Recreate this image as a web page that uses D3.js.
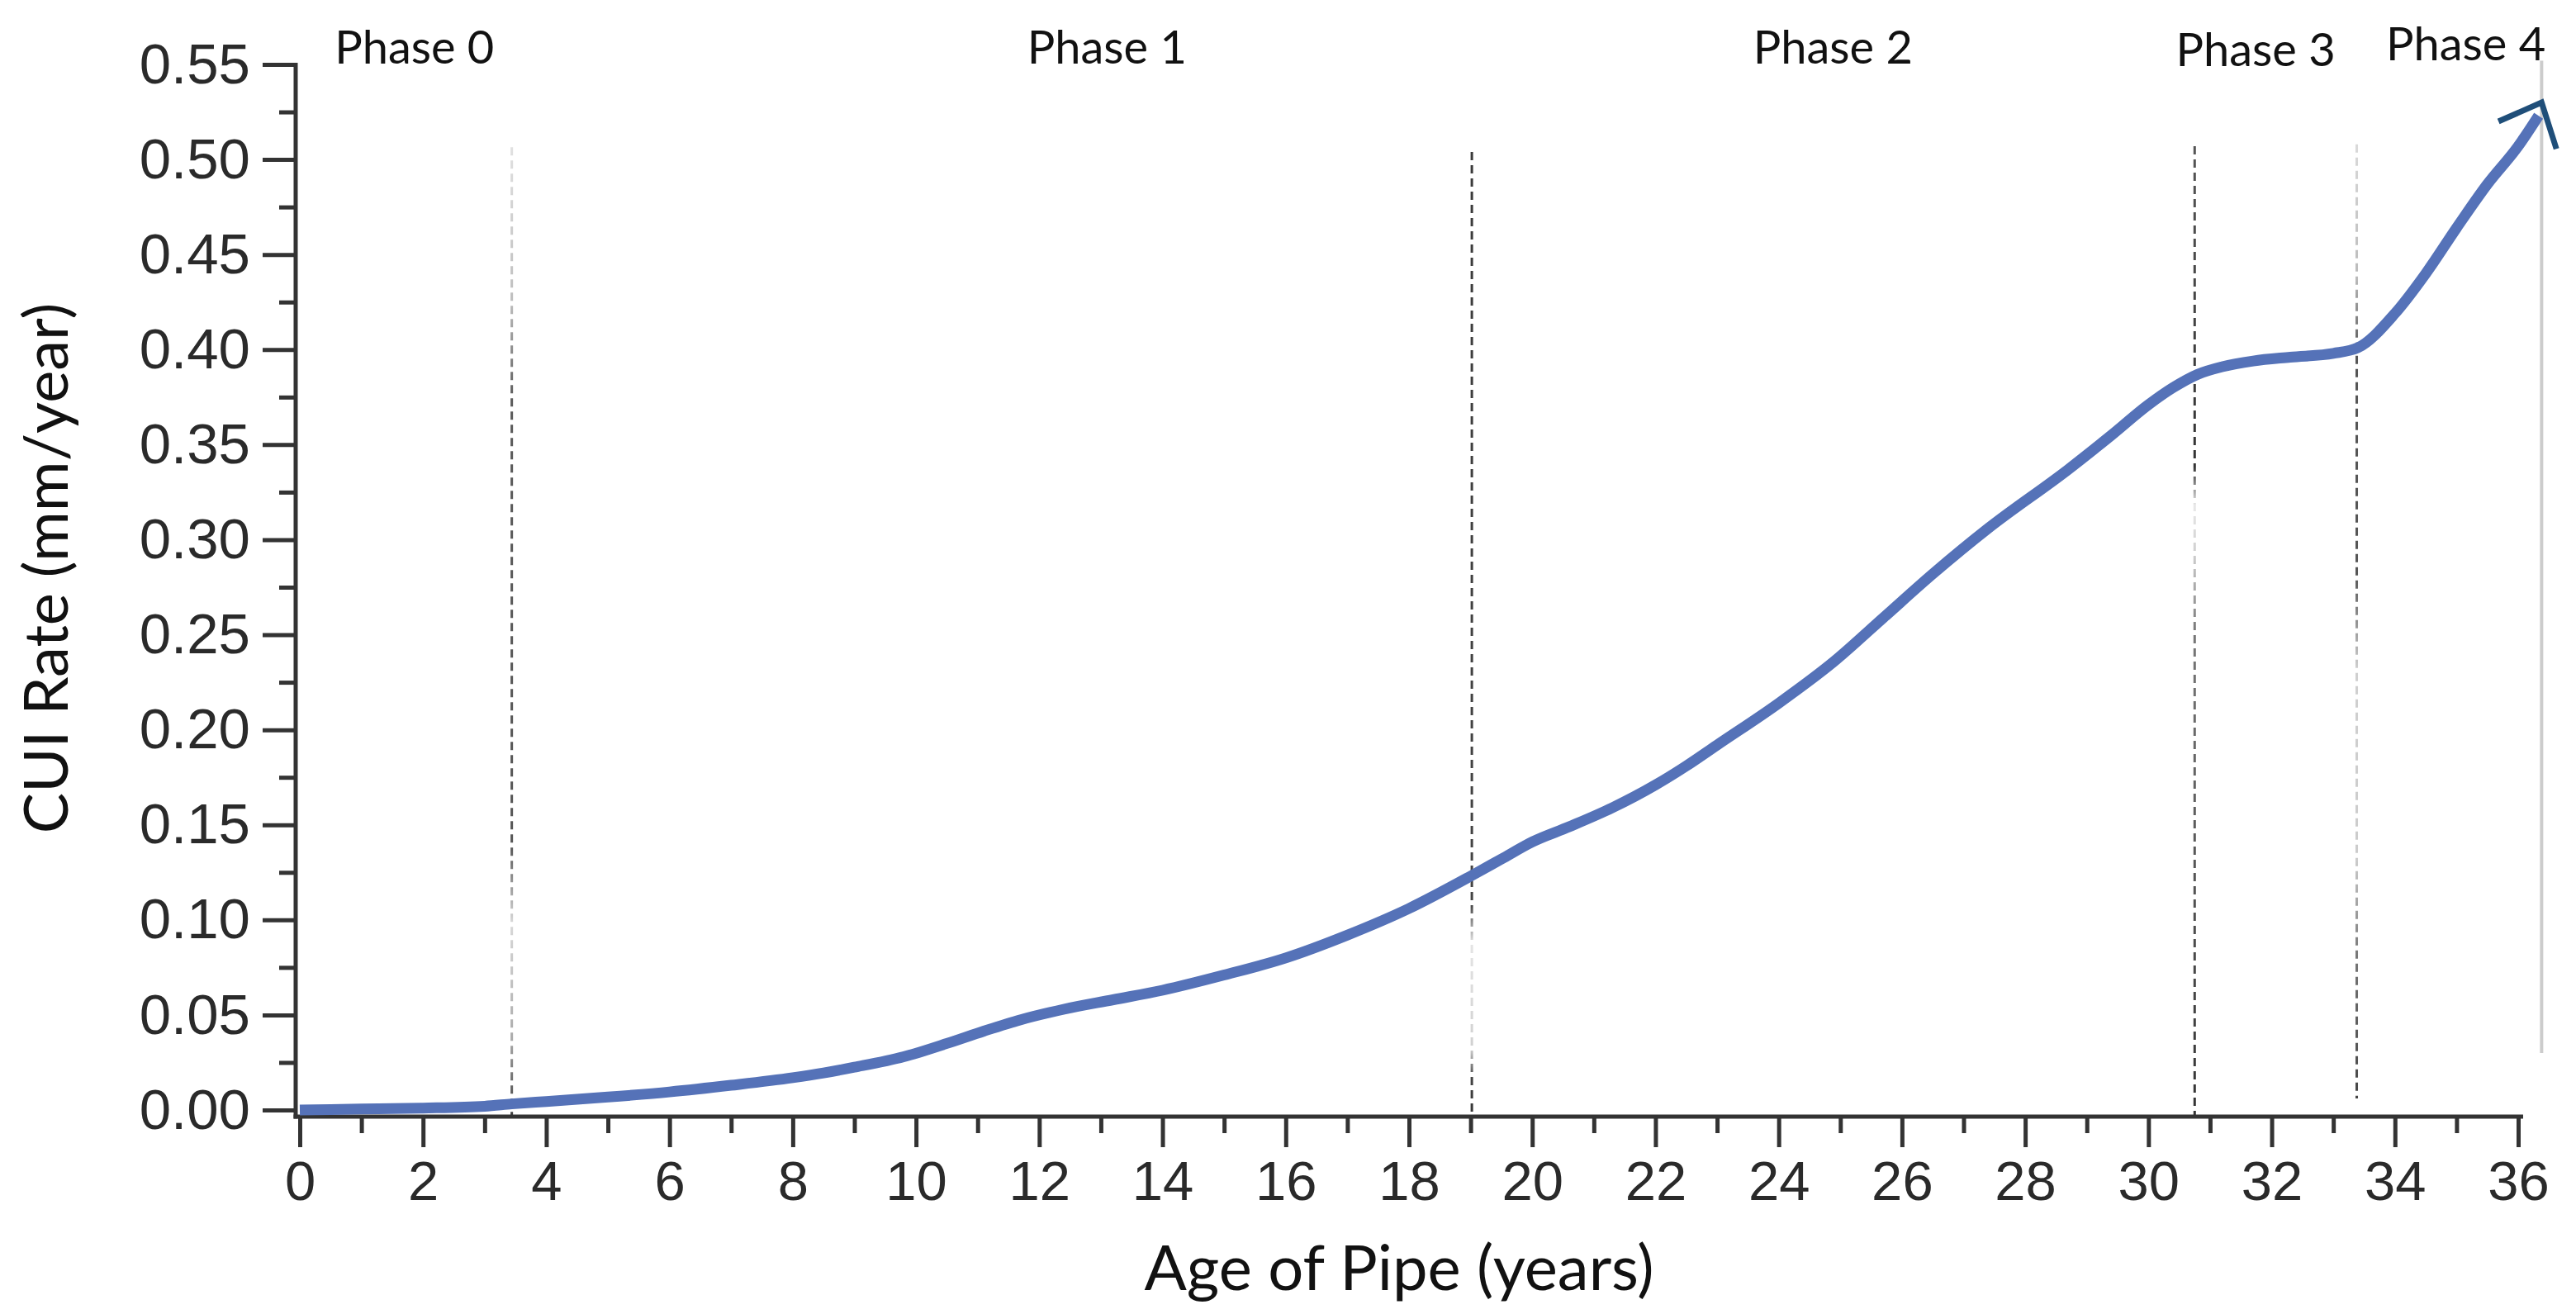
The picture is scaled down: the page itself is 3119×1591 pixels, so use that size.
<!DOCTYPE html>
<html>
<head>
<meta charset="utf-8">
<script src="https://cdn.jsdelivr.net/npm/d3@7"></script>
<style>
  html, body { margin: 0; padding: 0; background: #ffffff; }
  svg { display: block; }
</style>
</head>
<body>
<svg id="chart" width="3119" height="1591"></svg>
<script>
// ---------------- data ----------------
const ages = [0, 1, 2, 3, 3.44, 4, 5, 6, 7, 8, 8.5, 9, 9.8, 10.5, 11.1, 11.7, 12.4, 13.2, 14, 15, 16, 17, 18, 19, 19.5, 20, 20.6, 21.3, 22, 22.5, 23, 24, 24.9, 25.7, 26.5, 27.4, 28.7, 29.4, 30, 30.4, 30.8, 31.2, 31.7, 32.3, 33, 33.4, 34, 34.5, 35.0, 35.5, 36.0, 36.33];
const cuiRates = [0.000, 0.0005, 0.001, 0.002, 0.0032, 0.0045, 0.0068, 0.0095, 0.013, 0.017, 0.0195, 0.0225, 0.028, 0.035, 0.0415, 0.0475, 0.053, 0.058, 0.063, 0.071, 0.080, 0.092, 0.106, 0.123, 0.132, 0.141, 0.149, 0.159, 0.171, 0.181, 0.192, 0.214, 0.236, 0.259, 0.282, 0.306, 0.337, 0.355, 0.371, 0.380, 0.387, 0.391, 0.394, 0.396, 0.398, 0.401, 0.419, 0.440, 0.464, 0.487, 0.507, 0.523];

const xTickValues = [0, 2, 4, 6, 8, 10, 12, 14, 16, 18, 20, 22, 24, 26, 28, 30, 32, 34, 36];
const xMinorTicks = [1, 3, 5, 7, 9, 11, 13, 15, 17, 19, 21, 23, 25, 27, 29, 31, 33, 35];
const yTickValues = [0, 0.05, 0.10, 0.15, 0.20, 0.25, 0.30, 0.35, 0.40, 0.45, 0.50, 0.55];
const yMinorTicks = [0.025, 0.075, 0.125, 0.175, 0.225, 0.275, 0.325, 0.375, 0.425, 0.475, 0.525];

const phaseNames = ["Phase 0", "Phase 1", "Phase 2", "Phase 3", "Phase 4"];
const phaseLabelAges = [1.86, 13.1, 24.88, 31.74, 35.15];
const phaseBoundaryAges = [3.44, 19.02, 30.75, 33.38];
const endMarkerAge = 36.38;
// arrow head at the end of the curve: [age, rate]
const arrowPoints = [[35.68, 0.520], [36.38, 0.530], [36.62, 0.5056]];

const xTitle = "Age of Pipe (years)";
const yTitle = "CUI Rate (mm/year)";

// ---------------- layout ----------------
const svg = d3.select("#chart");
const x = d3.scaleLinear().domain([0, 36]).range([363, 3049]);
const y = d3.scaleLinear().domain([0, 0.55]).range([1344, 78]);
const xAxisY = 1352;
const yAxisX = 358;
const xAxisEnd = x(36.08);
const axisColor = "#333333";
const labelColor = "#2a2a2a";

// dashed boundary line style (fading pattern) per boundary
const fadeStops = [
  [[0, "#e0e0e0"], [0.16, "#bdbdbd"], [0.26, "#5a5a5a"], [0.72, "#555"], [0.8, "#d8d8d8"], [0.92, "#aaaaaa"], [1, "#3a3a3a"]],
  [[0, "#3a3a3a"], [0.78, "#444"], [0.82, "#e4e4e4"], [0.93, "#d0d0d0"], [0.96, "#444"], [1, "#333"]],
  [[0, "#555"], [0.33, "#333"], [0.37, "#e8e8e8"], [0.42, "#cfcfcf"], [0.5, "#777"], [1, "#333"]],
  [[0, "#dadada"], [0.14, "#bbbbbb"], [0.22, "#555"], [0.45, "#555"], [0.55, "#d0d0d0"], [0.75, "#cccccc"], [0.85, "#777"], [1, "#444"]]
];
const boundaryTop = [0.5065, 0.504, 0.507, 0.508];
const boundaryBottomPx = [xAxisY, xAxisY, xAxisY, 1330];

const defs = svg.append("defs");
phaseBoundaryAges.forEach((a, i) => {
  const g = defs.append("linearGradient")
    .attr("id", "fade" + i)
    .attr("gradientUnits", "userSpaceOnUse")
    .attr("x1", x(a)).attr("x2", x(a))
    .attr("y1", y(boundaryTop[i])).attr("y2", boundaryBottomPx[i]);
  fadeStops[i].forEach(s => g.append("stop").attr("offset", s[0]).attr("stop-color", s[1]));
});

// boundary dashed lines
svg.append("g").selectAll("line.boundary")
  .data(phaseBoundaryAges)
  .join("line")
  .attr("class", "boundary")
  .attr("x1", d => x(d)).attr("x2", d => x(d))
  .attr("y1", (d, i) => y(boundaryTop[i]))
  .attr("y2", (d, i) => boundaryBottomPx[i])
  .attr("stroke", (d, i) => `url(#fade${i})`)
  .attr("stroke-width", 3)
  .attr("stroke-dasharray", "10,6");

// solid light line at the end
svg.append("line")
  .attr("x1", x(endMarkerAge)).attr("x2", x(endMarkerAge))
  .attr("y1", y(0.552)).attr("y2", y(0.030))
  .attr("stroke", "#cccccc")
  .attr("stroke-width", 4);

// ---------------- axes ----------------
const yAxis = d3.axisLeft(y)
  .tickValues(yTickValues)
  .tickFormat(d3.format(".2f"))
  .tickSize(40)
  .tickPadding(15);
const gy = svg.append("g").attr("transform", `translate(${yAxisX},0)`).call(yAxis);
gy.select(".domain").remove();
gy.selectAll(".tick line").attr("stroke", axisColor).attr("stroke-width", 5);
gy.selectAll(".tick text")
  .attr("font-family", "'Liberation Sans', Arial, sans-serif")
  .attr("font-size", 69)
  .attr("fill", labelColor);

const yMinor = d3.axisLeft(y).tickValues(yMinorTicks).tickSize(20).tickFormat("");
const gym = svg.append("g").attr("transform", `translate(${yAxisX},0)`).call(yMinor);
gym.select(".domain").remove();
gym.selectAll(".tick line").attr("stroke", axisColor).attr("stroke-width", 5);

const xAxis = d3.axisBottom(x)
  .tickValues(xTickValues)
  .tickFormat(d3.format("d"))
  .tickSize(37)
  .tickPadding(16);
const gx = svg.append("g").attr("transform", `translate(0,${xAxisY})`).call(xAxis);
gx.select(".domain").remove();
gx.selectAll(".tick line").attr("stroke", axisColor).attr("stroke-width", 5);
gx.selectAll(".tick text")
  .attr("font-family", "'Liberation Sans', Arial, sans-serif")
  .attr("font-size", 67)
  .attr("fill", labelColor);

const xMinor = d3.axisBottom(x).tickValues(xMinorTicks).tickSize(20).tickFormat("");
const gxm = svg.append("g").attr("transform", `translate(0,${xAxisY})`).call(xMinor);
gxm.select(".domain").remove();
gxm.selectAll(".tick line").attr("stroke", axisColor).attr("stroke-width", 5);

svg.append("line")
  .attr("x1", yAxisX).attr("x2", yAxisX)
  .attr("y1", y(0.55) - 2).attr("y2", xAxisY + 2.5)
  .attr("stroke", axisColor).attr("stroke-width", 5);
svg.append("line")
  .attr("x1", yAxisX - 2.5).attr("x2", xAxisEnd)
  .attr("y1", xAxisY).attr("y2", xAxisY)
  .attr("stroke", axisColor).attr("stroke-width", 5);

// ---------------- curve ----------------
const series = ages.map((a, i) => [a, cuiRates[i]]);
const line = d3.line()
  .x(d => x(d[0]))
  .y(d => y(d[1]))
  .curve(d3.curveMonotoneX);
svg.append("path")
  .datum(series)
  .attr("d", line)
  .attr("fill", "none")
  .attr("stroke", "#5572b8")
  .attr("stroke-width", 13)
  .attr("stroke-linecap", "butt")
  .attr("stroke-linejoin", "round");

// arrow head
svg.append("path")
  .datum(arrowPoints)
  .attr("d", d3.line().x(d => x(d[0])).y(d => y(d[1])))
  .attr("fill", "none")
  .attr("stroke", "#1f4e79")
  .attr("stroke-width", 7)
  .attr("stroke-linejoin", "miter");

// ---------------- phase labels ----------------
const phaseBaselines = [77, 77, 77, 80, 73];
svg.append("g").selectAll("text")
  .data(phaseNames)
  .join("text")
  .attr("x", (d, i) => x(phaseLabelAges[i]))
  .attr("y", (d, i) => phaseBaselines[i])
  .attr("text-anchor", "middle")
  .attr("font-family", "Lato, 'Open Sans', sans-serif")
  .attr("font-size", 56)
  .attr("fill", "#111")
  .text(d => d);

// ---------------- titles ----------------
svg.append("text")
  .attr("x", 1694).attr("y", 1562)
  .attr("text-anchor", "middle")
  .attr("font-family", "Lato, 'Open Sans', sans-serif")
  .attr("font-size", 76)
  .attr("fill", "#111")
  .text(xTitle);

svg.append("text")
  .attr("transform", "translate(82,688) rotate(-90)")
  .attr("text-anchor", "middle")
  .attr("font-family", "Lato, 'Open Sans', sans-serif")
  .attr("font-size", 74)
  .attr("fill", "#111")
  .text(yTitle);
</script>
</body>
</html>
